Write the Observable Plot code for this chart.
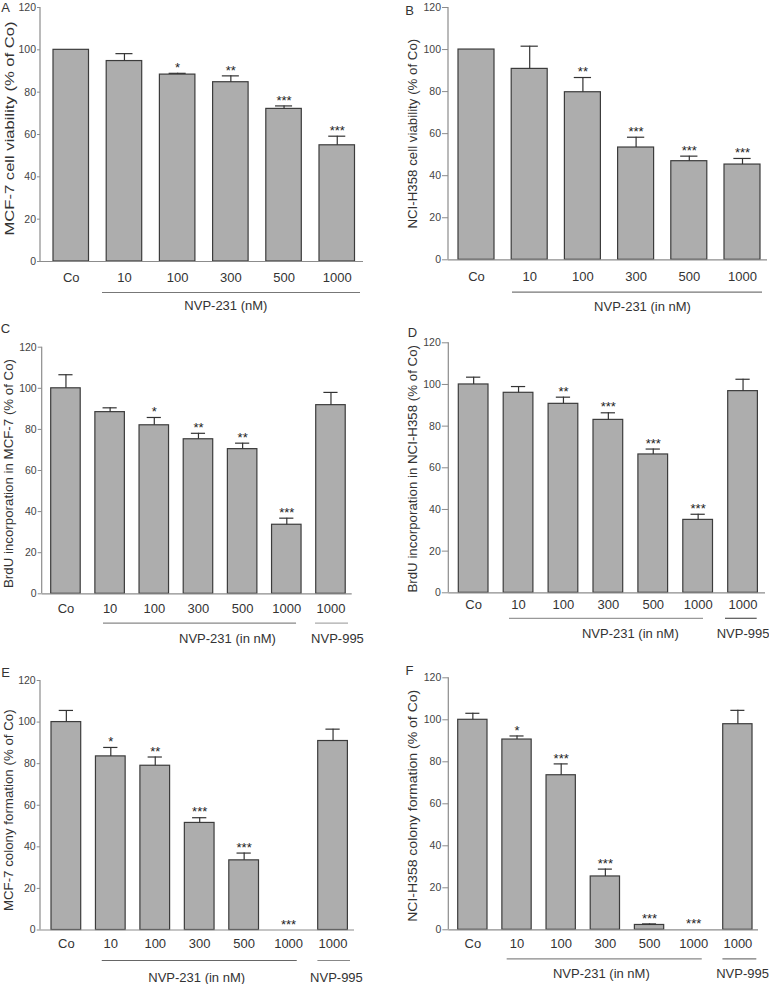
<!DOCTYPE html>
<html><head><meta charset="utf-8">
<script src="https://cdn.jsdelivr.net/npm/d3@7"></script>
<script src="https://cdn.jsdelivr.net/npm/@observablehq/plot@0.6"></script>
<style>
html,body{margin:0;padding:0;background:#fff;}
#page{position:relative;width:769px;height:984px;overflow:hidden;font-family:"Liberation Sans",Arial,sans-serif;}
#page > div{position:absolute;}
#page svg{overflow:visible;}
</style></head><body><div id="page"></div>
<script>
// ---- categories & tick labels ----
const cats6 = ["Co","10","100","300","500","1000"];
const cats7 = ["Co","10","100","300","500","1000","NVP-995"];
const labels6 = ["Co","10","100","300","500","1000"];
const labels7 = ["Co","10","100","300","500","1000","1000"];
const yTicks = [0,20,40,60,80,100,120];

// ---- panel A: MCF-7 viability ----
const meanA = [100, 94.7, 88.3, 84.7, 72.1, 54.9];
const errA  = [0, 3.5, 0.6, 3.0, 1.4, 4.3];
const starsA = ["", "", "*", "**", "***", "***"];
// ---- panel B: NCI-H358 viability ----
const meanB = [100, 90.8, 79.7, 53.4, 46.9, 45.3];
const errB  = [0, 10.8, 7.0, 4.9, 2.4, 2.9];
const starsB = ["", "", "**", "***", "***", "***"];
// ---- panel C: BrdU MCF-7 ----
const meanC = [100, 88.4, 82.0, 75.2, 70.4, 33.6, 91.8];
const errC  = [6.6, 2.1, 3.8, 2.9, 2.9, 3.2, 6.2];
const starsC = ["", "", "*", "**", "**", "***", ""];
// ---- panel D: BrdU NCI-H358 ----
const meanD = [100, 96.0, 90.7, 83.0, 66.4, 35.0, 96.8];
const errD  = [3.5, 3.0, 3.2, 3.4, 2.6, 2.7, 5.7];
const starsD = ["", "", "**", "***", "***", "***", ""];
// ---- panel E: colony MCF-7 ----
const meanE = [100, 83.5, 79.0, 51.5, 33.5, 0, 90.9];
const errE  = [5.6, 4.3, 4.2, 2.5, 3.5, 0, 5.7];
const starsE = ["", "*", "**", "***", "***", "***", ""];
// ---- panel F: colony NCI-H358 ----
const meanF = [100, 90.6, 73.6, 25.4, 2.3, 0, 97.9];
const errF  = [3.1, 1.7, 5.4, 3.5, 0.5, 0, 6.6];
const starsF = ["", "*", "***", "***", "***", "***", ""];

const yLabels = {
  A: "MCF-7 cell viability (% of Co)",
  B: "NCI-H358 cell viability (% of Co)",
  C: "BrdU incorporation in MCF-7 (% of Co)",
  D: "BrdU incorporation in NCI-H358 (% of Co)",
  E: "MCF-7 colony formation (% of Co)",
  F: "NCI-H358 colony formation (% of Co)"
};
const group231A = "NVP-231 (nM)";
const group231 = "NVP-231 (in nM)";
const group995 = "NVP-995";

// ---- layout (pixels, styles) ----
const layout = {
  A: {left:0, top:0, w:385, h:318, ml:40, mt:7, mb:57, mr:22, s0:53, step:53.2, bw:35.5, tick:3,
      tickDy:16, lineDy:31, groupDy:44, lines:[[-4.2,-5.5,"#777"]], gdx:[-5], ylab:[-30.5,-6], ylabLen:214, letter:[5,7.5]},
  B: {left:385, top:0, w:384, h:318, ml:63, mt:7, mb:58.7, mr:2, s0:73, step:53.2, bw:36, tick:6,
      tickDy:17.4, lineDy:32.4, groupDy:47, lines:[[0.8,-2,"#777"]], gdx:[6.4], ylab:[-35.5,0], letter:[24,10]},
  C: {left:0, top:318, w:385, h:327, ml:41.7, mt:28.7, mb:51.7, mr:33.3, s0:50.7, step:44.17, bw:29.5, tick:4,
      tickDy:14.7, lineDy:29.4, groupDy:44.7, lines:[[8.1,5,"#888"],[-0.7,-2.8,"#aaa"]], gdx:[29,6.5], ylab:[-33,3], letter:[5,10]},
  D: {left:385, top:318, w:384, h:327, ml:63.3, mt:24.3, mb:52.7, mr:4, s0:73.3, step:44.9, bw:29.7, tick:6.5,
      tickDy:11.7, lineDy:25.5, groupDy:40.7, lines:[[5.8,9.5,"#999"],[-2.7,0.7,"#555"]], gdx:[22,0], ylab:[-35.8,1], letter:[27,14]},
  E: {left:0, top:645, w:385, h:339, ml:40, mt:35, mb:54.5, mr:31, s0:51, step:44.45, bw:29.7, tick:3.3,
      tickDy:13.8, lineDy:30.5, groupDy:47.8, lines:[[6.3,6.2,"#666"],[-0.3,-2.6,"#888"]], gdx:[-3,3.4], ylab:[-31.3,5], letter:[5,27]},
  F: {left:385, top:645, w:384, h:339, ml:63.3, mt:32.3, mb:54.7, mr:11, s0:72.7, step:44.17, bw:29.3, tick:6,
      tickDy:14, lineDy:29, groupDy:43.7, lines:[[4.8,6.1,"#888"],[-0.3,-4.3,"#777"]], gdx:[-4,4.7], ylab:[-35.8,2], ylabLen:232, letter:[24,25]}
};

const panels = [
  {key:"A", cats:cats6, labels:labels6, mean:meanA, err:errA, stars:starsA, groups:[["10","1000",group231A,"300"]]},
  {key:"B", cats:cats6, labels:labels6, mean:meanB, err:errB, stars:starsB, groups:[["10","1000",group231,"300"]]},
  {key:"C", cats:cats7, labels:labels7, mean:meanC, err:errC, stars:starsC, groups:[["10","1000",group231,"300"],["NVP-995","NVP-995",group995,"NVP-995"]]},
  {key:"D", cats:cats7, labels:labels7, mean:meanD, err:errD, stars:starsD, groups:[["10","1000",group231,"300"],["NVP-995","NVP-995",group995,"NVP-995"]]},
  {key:"E", cats:cats7, labels:labels7, mean:meanE, err:errE, stars:starsE, groups:[["10","1000",group231,"300"],["NVP-995","NVP-995",group995,"NVP-995"]]},
  {key:"F", cats:cats7, labels:labels7, mean:meanF, err:errF, stars:starsF, groups:[["10","1000",group231,"300"],["NVP-995","NVP-995",group995,"NVP-995"]]}
];

const FONT = "'Liberation Sans', Arial, Helvetica, sans-serif";
const BAR_FILL = "#adadad", BAR_STROKE = "#3c3c3c", AXIS = "#8c8c8c";
const page = document.getElementById("page");

for (const p of panels) {
  const L = layout[p.key];
  const rows = p.cats.map((id, i) => ({id, label: p.labels[i], mean: p.mean[i], err: p.err[i], star: p.stars[i]}));
  const n = p.cats.length;
  const pi = 1 - L.bw / L.step, po = 0.3;
  const r0 = L.s0 - po * L.step;
  const r1 = r0 + L.step * (n - pi + 2 * po);
  const cap = L.bw * 0.26;
  const top = d => d.mean + d.err;

  const marks = [
    Plot.barY(rows.filter(d => d.mean > 0), {x: "id", y: "mean", fill: BAR_FILL, stroke: BAR_STROKE, strokeWidth: 1.2}),
    Plot.ruleX(rows.filter(d => d.err > 0), {x: "id", y1: "mean", y2: top, stroke: "#333", strokeWidth: 1.2}),
    Plot.tickY(rows.filter(d => d.err > 0), {x: "id", y: top, insetLeft: cap, insetRight: cap, stroke: "#333", strokeWidth: 1.2}),
    Plot.text(rows.filter(d => d.star), {x: "id", y: top, text: "star", dy: -5.5, fontSize: 13, fill: "#222",
      textAnchor: "middle", lineAnchor: "middle"}),
    Plot.ruleY([0], {stroke: AXIS, strokeWidth: 1.2}),
    Plot.axisY({ticks: yTicks, tickSize: L.tick, tickPadding: 1.5, fontSize: 10.5, stroke: AXIS, fill: "#444", label: null}),
    Plot.text(rows, {x: "id", text: "label", frameAnchor: "bottom", dy: L.tickDy, fontSize: 13, fill: "#333",
      textAnchor: "middle", lineAnchor: "middle"}),
    Plot.text([yLabels[p.key]], {frameAnchor: "left", rotate: -90, dx: L.ylab[0], dy: L.ylab[1], fontSize: 13.3, fill: "#333",
      textAnchor: "middle", lineAnchor: "middle"}),
    Plot.text([p.key], {frameAnchor: "top-left", dx: L.letter[0] - L.ml, dy: L.letter[1] - L.mt, fontSize: 13, fill: "#333",
      textAnchor: "middle", lineAnchor: "middle"})
  ];
  p.groups.forEach((g, gi) => {
    const [a, b, text, center] = g;
    const [il, ir, col] = L.lines[gi];
    marks.push(Plot.ruleY([{a, b}], {x1: "a", x2: "b", y: () => 0, dy: L.lineDy, insetLeft: il, insetRight: ir, stroke: col, strokeWidth: 1.2}));
    marks.push(Plot.text([{center, text}], {x: "center", text: "text", frameAnchor: "bottom", dy: L.groupDy, dx: L.gdx[gi],
      fontSize: 13, fill: "#333", textAnchor: "middle", lineAnchor: "middle"}));
  });

  const chart = Plot.plot({
    width: L.w, height: L.h,
    marginLeft: L.ml, marginRight: L.mr, marginTop: L.mt, marginBottom: L.mb,
    style: {fontFamily: FONT, background: "transparent", overflow: "visible"},
    x: {domain: p.cats, range: [r0, r1], paddingInner: pi, paddingOuter: po, round: false, axis: null},
    y: {domain: [0, 120]},
    marks
  });
  // y-axis line along the frame, from the y scale
  const ys = chart.scale("y");
  d3.select(chart).append("line")
    .attr("x1", L.ml).attr("x2", L.ml)
    .attr("y1", ys.apply(0)).attr("y2", ys.apply(120))
    .attr("stroke", AXIS).attr("stroke-width", 1.2);
  // the reference's axis title is vertically stretched in some panels
  if (L.ylabLen) {
    d3.select(chart).selectAll("text")
      .filter(function () { return this.textContent === yLabels[p.key]; })
      .attr("textLength", L.ylabLen).attr("lengthAdjust", "spacingAndGlyphs");
  }

  const holder = document.createElement("div");
  holder.style.left = L.left + "px";
  holder.style.top = L.top + "px";
  holder.appendChild(chart);
  page.appendChild(holder);
}
</script></body></html>
